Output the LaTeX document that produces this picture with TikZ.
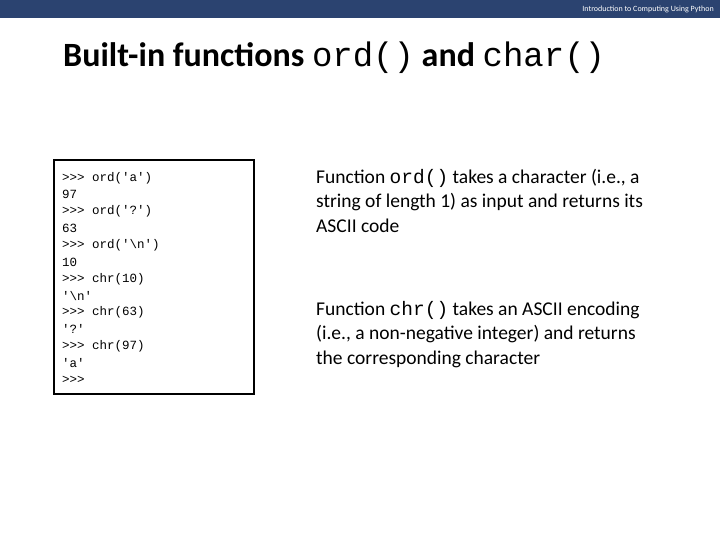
\documentclass[tikz,border=0pt]{standalone}
\usepackage{fontspec}
\setmainfont{Carlito}
\setmonofont{Liberation Mono}
\usetikzlibrary{positioning}
\definecolor{barblue}{HTML}{2B4370}
\newcommand{\bsl}{\textbackslash}
\begin{document}
\begin{tikzpicture}[x=1pt,y=-1pt,
    codeline/.style={anchor=west,inner sep=0pt,font=\ttfamily\fontsize{12.5}{13}\selectfont},
    prose/.style={anchor=north west,inner sep=0pt,text width=340pt,align=flush left,
      font=\fontsize{19.5}{24.5}\selectfont},
  ]
  \useasboundingbox (0,0) rectangle (720,540);
  \fill[barblue] (0,0) rectangle (720,18);
  \node[anchor=east,text=white,font=\fontsize{8}{9}\selectfont,inner sep=0pt] (course) at (714,9)
    {Introduction to Computing Using Python};
  \node[anchor=west,inner sep=0pt,font=\bfseries\fontsize{34}{36}\selectfont] (title) at (63,58)
    {Built-in functions \texttt{\mdseries ord()} and \texttt{\mdseries char()}};

  \draw[line width=2pt] (54,160) rectangle (254,394);
  \foreach \txt [count=\i] in {>>> ord('a'),97,>>> ord('?'),63,>>> ord('\bsl n'),10,
      >>> chr(10),'\bsl n',>>> chr(63),'?',>>> chr(97),'a',>>>}
    \node[codeline] (line\i) at (62,{178+16.8*(\i-1)}) {\txt};

  \node[prose] (ordtext) at (316,169)
    {Function \texttt{ord()} takes a character (i.e., a string of length 1) as input and returns its ASCII code};
  \node[prose] (chrtext) at (316,301)
    {Function \texttt{chr()} takes an ASCII encoding (i.e., a non-negative integer) and returns the corresponding character};
\end{tikzpicture}
\end{document}
